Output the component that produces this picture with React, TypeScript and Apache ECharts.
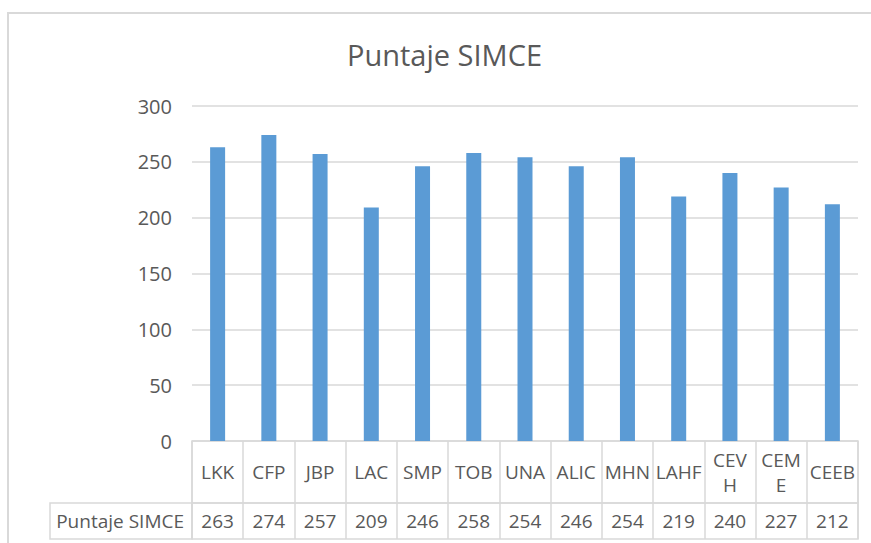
import React, { useEffect, useRef } from 'react';
import * as echarts from 'echarts';

const categories = ['LKK', 'CFP', 'JBP', 'LAC', 'SMP', 'TOB', 'UNA', 'ALIC', 'MHN', 'LAHF', 'CEVH', 'CEME', 'CEEB'];
const values = [263, 274, 257, 209, 246, 258, 254, 246, 254, 219, 240, 227, 212];
const seriesName = 'Puntaje SIMCE';
const titleText = 'Puntaje SIMCE';
const yMin = 0;
const yMax = 300;
const yInterval = 50;
// how the data table wraps the long category names
const wrapped: Record<string, string> = { CEVH: 'CEV\nH', CEME: 'CEM\nE' };

const FONT = '"Open Sans", "Noto Sans", sans-serif';
const TEXT = '#595959';
const LINE = '#d9d9d9';
const BAR = '#5b9bd5';

export default function App() {
  const ref = useRef<HTMLDivElement>(null);
  useEffect(() => {
    if (!ref.current) return;
    const chart = echarts.init(ref.current, undefined, { renderer: 'svg' });
    chart.setOption({
      animation: false,
      backgroundColor: '#ffffff',
      textStyle: { fontFamily: FONT },
      title: {
        text: titleText,
        left: 347,
        top: 40,
        padding: 0,
        textStyle: { fontFamily: FONT, fontSize: 29, fontWeight: 'normal', color: TEXT },
      },
      grid: [
        { left: 192, right: 13, top: 106, height: 335 },
        { left: 192, right: 13, top: 441, height: 62, show: true, borderColor: LINE, borderWidth: 1.5, backgroundColor: 'transparent' },
        { left: 192, right: 13, top: 503, height: 36, show: true, borderColor: LINE, borderWidth: 1.5, backgroundColor: 'transparent' },
      ],
      xAxis: [
        {
          type: 'category', gridIndex: 0, data: categories,
          axisLabel: { show: false }, axisTick: { show: false }, axisLine: { show: false },
        },
        {
          type: 'category', gridIndex: 1, data: categories, position: 'bottom',
          axisTick: { show: false }, axisLine: { show: false },
          splitLine: { show: true, interval: 0, lineStyle: { color: LINE, width: 1.5 } },
          axisLabel: {
            interval: 0, margin: -31, verticalAlign: 'middle', color: TEXT, fontSize: 19, fontFamily: FONT, lineHeight: 25,
            formatter: (v: string) => wrapped[v] ?? v,
          },
        },
        {
          type: 'category', gridIndex: 2, data: categories, position: 'bottom',
          axisTick: { show: false }, axisLine: { show: false },
          splitLine: { show: true, interval: 0, lineStyle: { color: LINE, width: 1.5 } },
          axisLabel: {
            interval: 0, margin: -18, verticalAlign: 'middle', color: TEXT, fontSize: 19, fontFamily: FONT,
            formatter: (_v: string, i: number) => String(values[i]),
          },
        },
      ],
      yAxis: [
        {
          type: 'value', gridIndex: 0, min: yMin, max: yMax, interval: yInterval,
          axisLine: { show: false }, axisTick: { show: false },
          axisLabel: { color: TEXT, fontSize: 20, fontFamily: FONT, margin: 20 },
          splitLine: { show: true, lineStyle: { color: LINE, width: 1.5 } },
        },
        { type: 'value', gridIndex: 1, show: false },
        {
          type: 'category', gridIndex: 2, data: [seriesName],
          axisLine: { show: false }, axisTick: { show: false },
          axisLabel: { color: TEXT, fontSize: 19, fontFamily: FONT, margin: 8 },
        },
      ],
      graphic: [
        {
          type: 'polyline', silent: true,
          shape: { points: [[8, 560], [8, 13], [880, 13]] },
          style: { stroke: LINE, lineWidth: 2, fill: 'none' },
        },
        {
          type: 'rect', silent: true,
          shape: { x: 50, y: 503, width: 142, height: 36 },
          style: { stroke: LINE, lineWidth: 1.5, fill: 'none' },
        },
      ],
      series: [
        {
          name: seriesName, type: 'bar', xAxisIndex: 0, yAxisIndex: 0,
          data: values, barWidth: 15, itemStyle: { color: BAR },
        },
      ],
    });
    return () => chart.dispose();
  }, []);
  return <div ref={ref} style={{ position: 'absolute', left: 0, top: 0, width: 871, height: 543 }} />;
}
